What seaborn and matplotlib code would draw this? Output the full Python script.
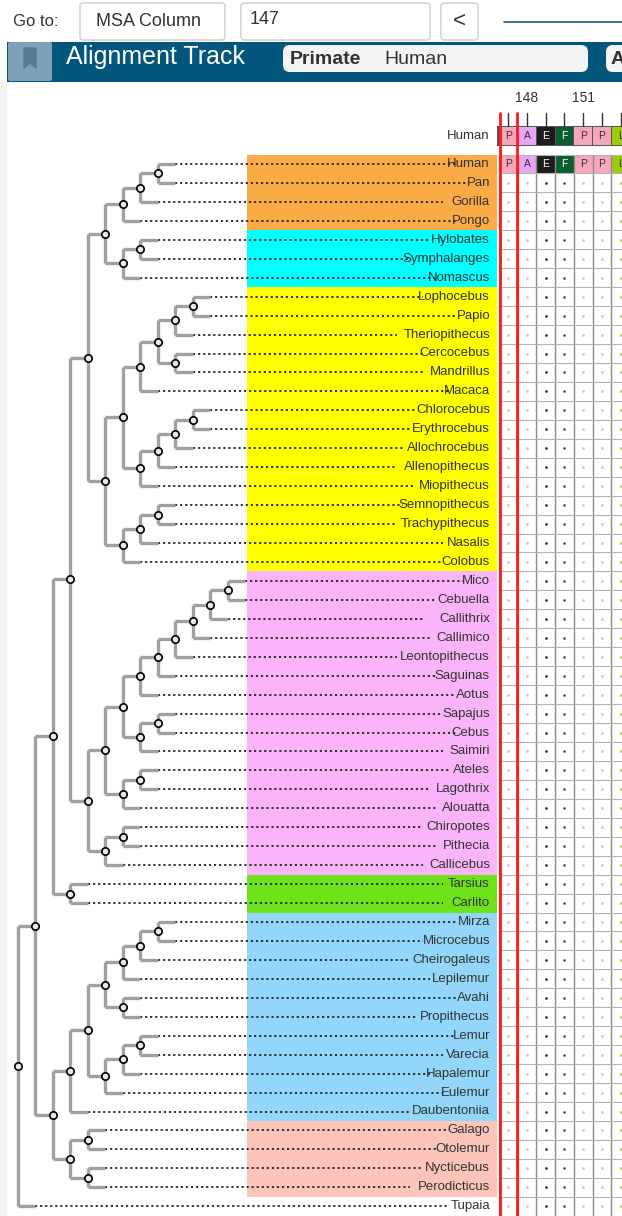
import numpy as np
import pandas as pd
import matplotlib
matplotlib.use("Agg")
import matplotlib.pyplot as plt
import seaborn as sns
from matplotlib.patches import Rectangle, FancyBboxPatch

sns.set_theme(style="white")
plt.rcParams["font.family"] = ["Liberation Sans", "DejaVu Sans"]

# ---------------------------
# Data
# ---------------------------
hominidae = ((("Human", "Pan"), "Gorilla"), "Pongo")
hylobatidae = (("Hylobates", "Symphalanges"), "Nomascus")
papionini = (((("Lophocebus", "Papio"), "Theriopithecus"), ("Cercocebus", "Mandrillus")), "Macaca")
cercopithecini = (((("Chlorocebus", "Erythrocebus"), "Allochrocebus"), "Allenopithecus"), "Miopithecus")
colobinae = ((("Semnopithecus", "Trachypithecus"), "Nasalis"), "Colobus")
catarrhini = ((hominidae, hylobatidae), ((papionini, cercopithecini), colobinae))
callitrichinae = (((((("Mico", "Cebuella"), "Callithrix"), "Callimico"), "Leontopithecus"), "Saguinas"), "Aotus")
cebinae = (("Sapajus", "Cebus"), "Saimiri")
atelidae = (("Ateles", "Lagothrix"), "Alouatta")
pitheciidae = (("Chiropotes", "Pithecia"), "Callicebus")
platyrrhini = (((callitrichinae, cebinae), atelidae), pitheciidae)
haplorhini = ((catarrhini, platyrrhini), ("Tarsius", "Carlito"))
lemur_a = (((("Mirza", "Microcebus"), "Cheirogaleus"), "Lepilemur"), ("Avahi", "Propithecus"))
lemur_b = ((("Lemur", "Varecia"), "Hapalemur"), "Eulemur")
lemuriformes = ((lemur_a, lemur_b), "Daubentoniia")
lorisiformes = (("Galago", "Otolemur"), ("Nycticebus", "Perodicticus"))
tree = ((haplorhini, (lemuriformes, lorisiformes)), "Tupaia")

group_sizes = [4, 3, 15, 16, 2, 11, 4]
group_colors = ["#FBAB45", "#00FFFF", "#FFFF00", "#F9B4FA", "#6EE31A", "#92D6F9", "#FDC4BA"]

msa_residues = ["P", "A", "E", "F", "P", "P", "L"]
msa_colors = ["#F8A6BC", "#E8A5F5", "#1C1C1C", "#0C5E2F", "#F8A6BC", "#F8A6BC", "#9CCB10"]
msa_text = ["#333333", "#333333", "white", "white", "#333333", "#333333", "#333333"]
msa_tick_labels = {1: "148", 4: "151"}

# ---------------------------
# Layout helpers
# ---------------------------
ROW0, ROWH = 164, 18.95
STEP = 17.5
leaves = []
nodes = []
segs = []


def collect(t):
    if isinstance(t, str):
        leaves.append(t)
    else:
        for c in t:
            collect(c)


collect(tree)
leaf_y = {n: ROW0 + i * ROWH for i, n in enumerate(leaves)}


def layout(t, depth):
    x = STEP * (depth + 1)
    if isinstance(t, str):
        return x, leaf_y[t]
    kids = [layout(c, depth + 1) for c in t]
    ys = [k[1] for k in kids]
    y = (ys[0] + ys[-1]) / 2
    segs.append(((x, x), (ys[0], ys[-1])))
    for kx, ky in kids:
        segs.append(((x, kx), (ky, ky)))
    nodes.append((x, y))
    return x, y


layout(tree, 0)

fig = plt.figure(figsize=(6.22, 12.16), dpi=100)
ax = fig.add_axes([0, 0, 1, 1])

# left gray strip
ax.add_patch(Rectangle((0, 82), 7, 1134, color="#F3F3F3", lw=0))

# group bands
start = 0
for size, col in zip(group_sizes, group_colors):
    y0 = ROW0 + start * ROWH - ROWH / 2
    ax.add_patch(Rectangle((247, y0), 250, size * ROWH, color=col, lw=0, zorder=1))
    start += size

# leaf dotted lines + labels
leaf_end = {}
for (xs, ys) in segs:
    if ys[0] == ys[1]:
        leaf_end[ys[0]] = max(leaf_end.get(ys[0], 0), xs[1])
for name in leaves:
    y = leaf_y[name]
    x0 = leaf_end[y]
    tw = len(name) * 6.6
    ax.plot([x0, 489 - tw], [y, y], color="#222222", lw=1.3, ls=(0, (1.2, 1.6)), zorder=2)
    ax.text(490, y, name, ha="right", va="center", fontsize=9.5, color="#333333", zorder=4)

# tree branches
for xs, ys in segs:
    ax.plot(xs, ys, color="#A0A0A0", lw=2.4, solid_capstyle="butt", zorder=3)
nd = pd.DataFrame(nodes, columns=["x", "y"])
sns.scatterplot(data=nd, x="x", y="y", ax=ax, s=28, color="#E8E8E8",
                edgecolor="black", linewidth=1.2, zorder=5, legend=False)

# ---------------------------
# Alignment grid
# ---------------------------
CX0, CW = 499, 18.7
ncol = len(msa_residues) + 1
top = ROW0 - ROWH / 2
for i in range(len(leaves)):
    y0 = top + i * ROWH
    for j in range(len(msa_residues)):
        x0 = CX0 + j * CW
        if i == 0:
            ax.add_patch(Rectangle((x0, y0), CW, ROWH, color=msa_colors[j], lw=0, zorder=2))
            ax.text(x0 + CW / 2, y0 + ROWH / 2, msa_residues[j], ha="center", va="center",
                    fontsize=7.5, color=msa_text[j], zorder=4)
        else:
            ax.plot(x0 + CW / 2, y0 + ROWH / 2, marker="s", ms=0.9, color=msa_colors[j],
                    alpha=0.8, zorder=4)
for j in range(ncol + 1):
    ax.plot([CX0 + j * CW] * 2, [top, 1216], color="#8A8A8A", lw=1, zorder=3)
for i in range(len(leaves) + 1):
    ax.plot([CX0, 622], [top + i * ROWH] * 2, color="#B5B5B5", lw=0.8, zorder=3)

# reference human row
ax.add_patch(Rectangle((CX0 - 2, 126), 130, 20, color="#555555", lw=0, zorder=2))
for j, (r, c, tc) in enumerate(zip(msa_residues, msa_colors, msa_text)):
    x0 = CX0 + j * CW
    ax.add_patch(Rectangle((x0 + 0.5, 127), CW - 1, 18, color=c, lw=0, zorder=3))
    ax.text(x0 + CW / 2, 136, r, ha="center", va="center", fontsize=7.5, color=tc, zorder=4)
ax.text(490, 136, "Human", ha="right", va="center", fontsize=9.5, color="#333333")
for j in range(ncol):
    ax.plot([CX0 + j * CW + CW / 2] * 2, [113, 126], color="#333333", lw=1)
for j, lab in msa_tick_labels.items():
    ax.text(CX0 + j * CW + CW / 2, 98, lab, ha="center", va="center", fontsize=10, color="#333333")
for xr in [500, 517]:
    ax.plot([xr, xr], [113, 1216], color="#FF1A1A", lw=2, zorder=6)

# ---------------------------
# Header UI
# ---------------------------
ax.text(13, 21, "Go to:", ha="left", va="center", fontsize=12, color="#333333")
for x0, w in [(80, 145), (241, 189), (441, 37)]:
    ax.add_patch(FancyBboxPatch((x0, 3), w, 37, boxstyle="round,pad=0,rounding_size=3",
                                fc="white", ec="#CCCCCC", lw=1))
ax.text(96, 21, "MSA Column", ha="left", va="center", fontsize=13, color="#333333")
ax.text(250, 20, "147", ha="left", va="center", fontsize=13, color="#333333")
ax.text(459, 21, "<", ha="center", va="center", fontsize=16, color="#333333")
ax.plot([504, 622], [22, 22], color="#1F5A80", lw=1.2)

ax.add_patch(Rectangle((7, 42), 615, 40, color="#03577D", lw=0))
ax.add_patch(FancyBboxPatch((8, 42), 44, 39, boxstyle="round,pad=0,rounding_size=2",
                            fc="#7FA0B6", ec="none"))
ax.add_patch(plt.Polygon([(24, 48), (36, 48), (36, 68), (30, 63), (24, 68)], color="#557A92"))
ax.text(66, 57, "Alignment Track", ha="left", va="center", fontsize=18, color="white")
ax.add_patch(FancyBboxPatch((283, 45), 305, 27, boxstyle="round,pad=0,rounding_size=7",
                            fc="#F4F4F4", ec="none"))
ax.text(290, 59, "Primate", ha="left", va="center", fontsize=14, fontweight="bold", color="#333333")
ax.text(384, 59, "Human", ha="left", va="center", fontsize=14, color="#333333")
ax.add_patch(FancyBboxPatch((606, 45), 30, 27, boxstyle="round,pad=0,rounding_size=7",
                            fc="#F4F4F4", ec="none"))
ax.text(611, 59, "A", ha="left", va="center", fontsize=14, fontweight="bold", color="#333333")

ax.set_xlim(0, 622)
ax.set_ylim(1216, 0)
ax.axis("off")
fig.savefig("out.png", dpi=100)
